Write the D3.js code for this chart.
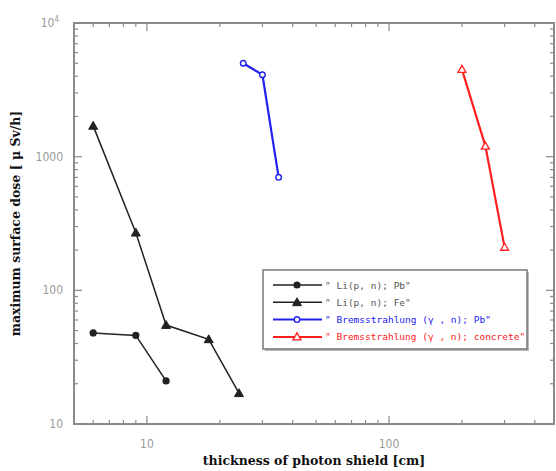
<!DOCTYPE html>
<html>
<head>
<meta charset="utf-8">
<script src="https://cdn.jsdelivr.net/npm/d3@7"></script>
<style>
  body { margin: 0; background: #fff; }
  svg { display: block; }
</style>
</head>
<body>
<svg id="chart" width="556" height="471"></svg>
<script>
// data
var pbThick = [6, 9, 12];
var pbDose = [48, 46, 21];
var feThick = [6, 9, 12, 18, 24];
var feDose = [1700, 270, 55, 43, 17];
var bremPbThick = [25, 30, 35];
var bremPbDose = [5000, 4100, 700];
var bremConcThick = [200, 250, 300];
var bremConcDose = [4500, 1200, 210];

var seriesNames = ["\" Li(p, n); Pb\"", "\" Li(p, n); Fe\"",
  "\" Bremsstrahlung (\u03b3 , n); Pb\"", "\" Bremsstrahlung (\u03b3 , n); concrete\""];
var seriesColors = ["#222", "#222", "#2222ee", "#ff2020"];
var seriesMarkers = ["circle", "triangle", "ocircle", "otriangle"];

var xMajor = [10, 100];
var yMajor = [10, 100, 1000];

var svg = d3.select("#chart");
var margin = { top: 23, right: 2, bottom: 47, left: 74 };
var W = +svg.attr("width"), H = +svg.attr("height");
var x0 = margin.left, x1 = W - margin.right, y0 = margin.top, y1 = H - margin.bottom;

var xScale = d3.scaleLog().domain([5, 480]).range([x0, x1]);
var yScale = d3.scaleLog().domain([10, 10000]).range([y1, y0]);

var axisColor = "#8a8a8a";

// minor ticks
var xMinor = [], yMinor = [];
[1, 10, 100].forEach(function (dec) {
  for (var k = 2; k <= 9; k++) {
    var v = dec * k;
    if (v > 5 && v < 480 && v != 10 && v != 100) xMinor.push(v);
  }
});
[10, 100, 1000].forEach(function (dec) {
  for (var k = 2; k <= 9; k++) yMinor.push(dec * k);
});

var ticks = svg.append("g").attr("stroke", axisColor).attr("stroke-width", 1.2);
// x ticks bottom / top
xMinor.forEach(function (v) {
  ticks.append("line").attr("x1", xScale(v)).attr("x2", xScale(v)).attr("y1", y1).attr("y2", y1 - 4);
  ticks.append("line").attr("x1", xScale(v)).attr("x2", xScale(v)).attr("y1", y0).attr("y2", y0 + 4);
});
xMajor.forEach(function (v) {
  ticks.append("line").attr("x1", xScale(v)).attr("x2", xScale(v)).attr("y1", y1).attr("y2", y1 - 8);
  ticks.append("line").attr("x1", xScale(v)).attr("x2", xScale(v)).attr("y1", y0).attr("y2", y0 + 8);
});
// y ticks left / right
yMinor.forEach(function (v) {
  ticks.append("line").attr("x1", x0).attr("x2", x0 + 4).attr("y1", yScale(v)).attr("y2", yScale(v));
  ticks.append("line").attr("x1", x1).attr("x2", x1 - 4).attr("y1", yScale(v)).attr("y2", yScale(v));
});
yMajor.forEach(function (v) {
  ticks.append("line").attr("x1", x0).attr("x2", x0 + 8).attr("y1", yScale(v)).attr("y2", yScale(v));
  ticks.append("line").attr("x1", x1).attr("x2", x1 - 8).attr("y1", yScale(v)).attr("y2", yScale(v));
});

// frame
svg.append("rect")
  .attr("x", x0).attr("y", y0)
  .attr("width", x1 - x0).attr("height", y1 - y0)
  .attr("fill", "none").attr("stroke", axisColor).attr("stroke-width", 2);

// tick labels
var lblFont = "'DejaVu Sans Condensed', 'DejaVu Sans', sans-serif";
xMajor.forEach(function (v) {
  svg.append("text").attr("x", xScale(v)).attr("y", y1 + 24)
    .attr("text-anchor", "middle").attr("font-family", lblFont)
    .attr("font-size", 12).attr("fill", "#999").text(v);
});
yMajor.forEach(function (v) {
  svg.append("text").attr("x", x0 - 11).attr("y", yScale(v) + 4)
    .attr("text-anchor", "end").attr("font-family", lblFont)
    .attr("font-size", 12).attr("fill", "#999").text(v);
});
var topLbl = svg.append("text").attr("x", x0 - 15).attr("y", yScale(10000) + 4)
  .attr("text-anchor", "end").attr("font-family", lblFont)
  .attr("font-size", 12).attr("fill", "#999");
topLbl.append("tspan").text("10");
topLbl.append("tspan").attr("dy", -5).attr("font-size", 8).text("4");

// axis titles
svg.append("text")
  .attr("x", (x0 + x1) / 2).attr("y", H - 6)
  .attr("text-anchor", "middle")
  .attr("font-family", "'DejaVu Serif', serif").attr("font-weight", "bold")
  .attr("font-size", 12.5).attr("fill", "#111")
  .text("thickness of photon shield [cm]");

svg.append("text")
  .attr("transform", "translate(20," + ((y0 + y1) / 2) + ") rotate(-90)")
  .attr("text-anchor", "middle")
  .attr("font-family", "'DejaVu Serif', serif").attr("font-weight", "bold")
  .attr("font-size", 12.5).attr("fill", "#111")
  .text("maximum surface dose [ \u03bc Sv/h]");

// markers
function drawMarker(g, type, cx, cy, color) {
  if (type == "circle") {
    g.append("circle").attr("cx", cx).attr("cy", cy).attr("r", 3.6).attr("fill", color);
  } else if (type == "ocircle") {
    g.append("circle").attr("cx", cx).attr("cy", cy).attr("r", 2.8).attr("fill", "#fff")
      .attr("stroke", color).attr("stroke-width", 1.4);
  } else {
    var s = type == "triangle" ? 4.5 : 4;
    var pts = [[cx, cy - s], [cx - s, cy + s * 0.75], [cx + s, cy + s * 0.75]];
    g.append("path").attr("d", "M" + pts.join("L") + "Z")
      .attr("fill", type == "triangle" ? color : "#fff")
      .attr("stroke", color).attr("stroke-width", type == "triangle" ? 1 : 1.3);
  }
}

var allSeries = [
  { xs: pbThick, ys: pbDose },
  { xs: feThick, ys: feDose },
  { xs: bremPbThick, ys: bremPbDose },
  { xs: bremConcThick, ys: bremConcDose }
];

var line = d3.line()
  .x(function (d) { return xScale(d[0]); })
  .y(function (d) { return yScale(d[1]); });

allSeries.forEach(function (s, i) {
  var pts = s.xs.map(function (v, j) { return [v, s.ys[j]]; });
  var g = svg.append("g");
  g.append("path").datum(pts)
    .attr("d", line).attr("fill", "none")
    .attr("stroke", seriesColors[i]).attr("stroke-width", i < 2 ? 1.5 : 2.2);
  pts.forEach(function (p) {
    drawMarker(g, seriesMarkers[i], xScale(p[0]), yScale(p[1]), seriesColors[i]);
  });
});

// legend
var leg = svg.append("g");
leg.append("rect").attr("x", 265).attr("y", 272).attr("width", 264).attr("height", 79)
  .attr("fill", "#bbb");
leg.append("rect").attr("x", 263).attr("y", 270).attr("width", 264).attr("height", 79)
  .attr("fill", "#fff").attr("stroke", "#777").attr("stroke-width", 1.5);
seriesNames.forEach(function (name, i) {
  var ly = 285 + i * 17.3;
  leg.append("line").attr("x1", 273).attr("x2", 322).attr("y1", ly).attr("y2", ly)
    .attr("stroke", seriesColors[i]).attr("stroke-width", i < 2 ? 1.5 : 2);
  drawMarker(leg, seriesMarkers[i], 297, ly, seriesColors[i]);
  leg.append("text").attr("x", 325).attr("y", ly + 3.5)
    .attr("font-family", "'DejaVu Sans Mono', monospace")
    .attr("font-size", 9.5)
    .attr("fill", i < 2 ? "#555" : seriesColors[i])
    .text(name);
});
</script>
</body>
</html>
